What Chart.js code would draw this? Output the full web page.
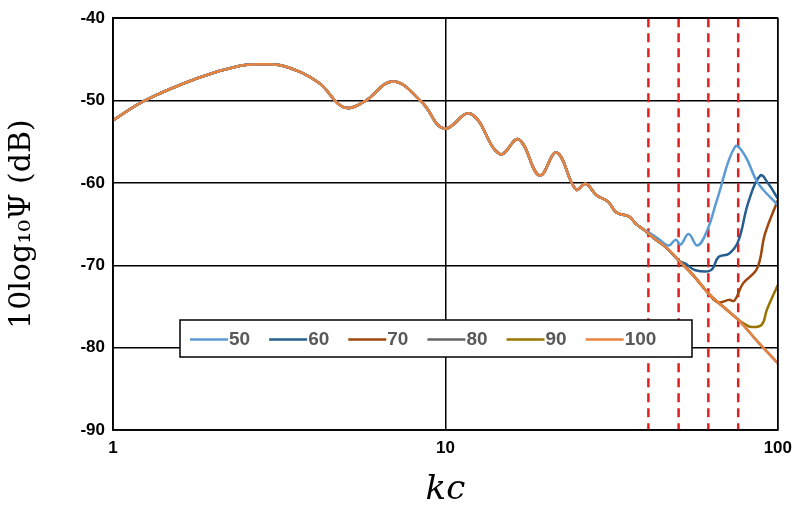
<!DOCTYPE html>
<html><head><meta charset="utf-8">
<script src="https://cdn.jsdelivr.net/npm/chart.js@4/dist/chart.umd.min.js"></script>
<style>html,body{margin:0;padding:0;background:#fff}#w{width:800px;height:515px}</style>
</head><body><div id="w"><canvas id="c"></canvas></div>
<script>
const seriesLabels = ['50','60','70','80','90','100'];
const seriesColors = ['#5b9bd5','#255e91','#9e480e','#636363','#997300','#e8843f'];
const kcMain = [1,1.246,1.818,2.394,2.783,3.26,4.15,4.93,5.66,6.95,8.5,9.9,11.9,14.6,16.6,19.2,21.6,24.7,26.4,28.5,30.9,32.7,35.7,37.5,39.6,43.0,46.0,50.3,55.6,61.8,68.8,76,87.1,100];
const dbMain = [-52.4,-50,-47.2,-45.8,-45.6,-45.8,-47.8,-50.8,-50.2,-47.7,-50.2,-53.4,-51.6,-56.5,-54.7,-59.1,-56.3,-60.8,-60.1,-61.5,-62.3,-63.6,-64.1,-65,-65.7,-66.9,-67.8,-69.4,-71.2,-73.4,-75.1,-76.6,-79.3,-81.9];
const split = {'50':39.6,'60':50.3,'70':61.8,'80':100,'90':76,'100':100};
const kc50 = [40.6,43.8,47,49.3,51,53.9,57.3,61.4,65.8,74.4,79.7,87.1,100];
const db50 = [-65.9,-66.8,-67.6,-66.9,-67.5,-66.2,-67.6,-65.7,-61.9,-55.6,-56.7,-60,-62.7];
const kc60 = [52.7,56.5,62.9,66.3,71.3,76,81.6,88.6,93.7,100];
const db60 = [-69.8,-70.6,-70.6,-69,-68.6,-67.1,-62.3,-59.1,-60.1,-61.9];
const kc70 = [66,71.3,74,78.6,86.6,91.5,100];
const db70 = [-74.5,-74.2,-74.3,-72.2,-70.4,-66.2,-62.1];
const kc90 = [80,83.6,89.5,92.7,100];
const db90 = [-77.2,-77.5,-77.2,-75.4,-72.4];
const tails = {'50':[kc50,db50],'60':[kc60,db60],'70':[kc70,db70],'80':[[],[]],'90':[kc90,db90],'100':[[],[]]};
const redLines = [40.8,50.3,61.8,76];
const yTicks = [-40,-50,-60,-70,-80,-90];
const xTicks = [1,10,100];

function build(lbl){
  const pts=[];
  kcMain.forEach((k,i)=>{ if(k<=split[lbl]) pts.push({x:k,y:dbMain[i]}); });
  const [tk,td]=tails[lbl]; tk.forEach((k,i)=>pts.push({x:k,y:td[i]}));
  return pts;
}
const datasets = seriesLabels.map((l,i)=>({label:l,data:build(l),borderColor:seriesColors[i],borderWidth:2.5,pointRadius:0,tension:0.4,fill:false,order:l==='100'?0:1}));
redLines.forEach(k=>datasets.push({label:'_red',data:[{x:k,y:-40},{x:k,y:-90}],borderColor:'#e02020',borderWidth:2.5,borderDash:[9,6],pointRadius:0,tension:0,order:2}));

const legendPlugin={id:'boxLegend',afterDraw(ch){
  const c=ch.ctx; c.save();
  const x0=180,y0=320,w=512,h=37;
  c.fillStyle='#fff';c.fillRect(x0,y0,w,h);
  c.strokeStyle='#000';c.lineWidth=1.5;c.strokeRect(x0,y0,w,h);
  c.font='bold 19px "Liberation Sans", Arial, sans-serif';c.textBaseline='middle';
  let x=x0+10;const y=y0+h/2+1;
  seriesLabels.forEach((l,i)=>{
    c.strokeStyle=seriesColors[i];c.lineWidth=2.5;c.beginPath();c.moveTo(x,y);c.lineTo(x+38,y);c.stroke();
    x+=39;c.fillStyle='#595959';c.fillText(l,x,y);x+=c.measureText(l).width+19;
  });
  c.restore();
}};

new Chart(document.getElementById('c'),{
  type:'line',
  data:{datasets},
  options:{
    responsive:true,maintainAspectRatio:false,animation:false,
    layout:{padding:{top:9,right:17,left:0,bottom:0}},
    plugins:{legend:{display:false},tooltip:{enabled:false}},
    scales:{
      x:{type:'logarithmic',min:1,max:100,
        afterBuildTicks:s=>{s.ticks=xTicks.map(v=>({value:v}));},
        afterFit:s=>{s.height=85;},
        ticks:{color:'#000',font:{size:17,weight:'bold',family:'"Liberation Sans", Arial'},callback:v=>String(v),maxRotation:0,padding:8},
        grid:{color:'#000',lineWidth:1.5,drawTicks:false},border:{color:'#000',width:1.5},
        title:{display:true,text:'kc',color:'#000',font:{size:34,style:'italic',family:'"DejaVu Serif", serif'},padding:{top:4}}},
      y:{min:-90,max:-40,
        afterBuildTicks:s=>{s.ticks=yTicks.map(v=>({value:v}));},
        afterFit:s=>{s.width=113;},
        ticks:{color:'#000',font:{size:17,weight:'bold',family:'"Liberation Sans", Arial'},padding:8},
        grid:{color:'#000',lineWidth:1.5,drawTicks:false},border:{color:'#000',width:1.5},
        title:{display:true,text:'10log\u2081\u2080\u03A8 (dB)',color:'#000',font:{size:30,family:'"DejaVu Serif", serif'},padding:{bottom:2}}}
    }
  },
  plugins:[legendPlugin,{id:'frame',afterDraw(ch){const a=ch.chartArea,c=ch.ctx;c.save();c.strokeStyle='#000';c.lineWidth=1.5;c.strokeRect(a.left,a.top,a.right-a.left,a.bottom-a.top);c.restore();}}]
});
</script></body></html>
